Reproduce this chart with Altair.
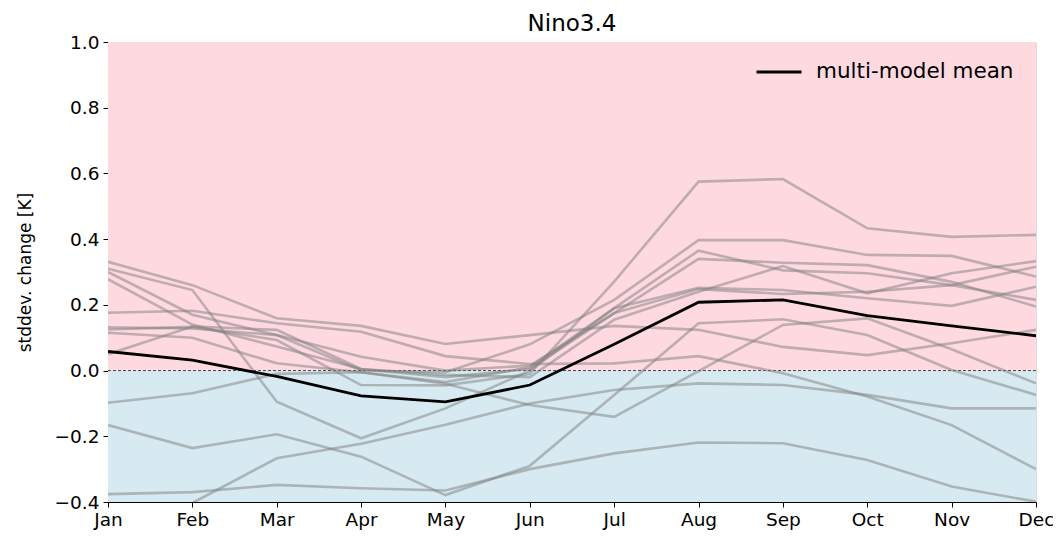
import altair as alt
import pandas as pd

months = ["Jan", "Feb", "Mar", "Apr", "May", "Jun", "Jul", "Aug", "Sep", "Oct", "Nov", "Dec"]

model_a = [0.331, 0.260, 0.159, 0.136, 0.081, 0.108, 0.136, 0.124, 0.072, 0.047, 0.083, 0.124]
model_b = [0.176, 0.182, 0.144, 0.118, 0.044, 0.020, 0.022, 0.044, -0.008, -0.079, -0.166, -0.300]
model_c = [0.310, 0.245, -0.095, -0.206, -0.115, 0.000, 0.190, 0.365, 0.305, 0.296, 0.260, 0.215]
model_d = [0.300, 0.170, 0.108, 0.042, 0.000, 0.015, 0.175, 0.340, 0.328, 0.321, 0.270, 0.195]
model_e = [0.278, 0.140, 0.073, 0.005, -0.013, -0.020, 0.155, 0.240, 0.318, 0.235, 0.296, 0.333]
model_f = [0.132, 0.128, 0.108, 0.000, -0.005, 0.080, 0.215, 0.397, 0.397, 0.352, 0.349, 0.286]
model_g = [0.125, 0.133, 0.093, -0.044, -0.045, -0.010, 0.271, 0.575, 0.583, 0.433, 0.407, 0.413]
model_h = [0.115, 0.100, 0.022, -0.005, -0.035, 0.010, 0.190, 0.252, 0.245, 0.220, 0.197, 0.255]
model_i = [0.050, 0.134, 0.124, 0.005, -0.020, 0.005, 0.175, 0.248, 0.233, 0.240, 0.260, 0.316]
model_j = [-0.098, -0.069, -0.010, -0.005, -0.040, -0.105, -0.141, -0.002, 0.139, 0.159, 0.065, -0.039]
model_k = [-0.166, -0.236, -0.194, -0.262, -0.379, -0.290, -0.074, 0.144, 0.156, 0.108, 0.002, -0.074]
model_l = [-0.376, -0.370, -0.348, -0.358, -0.365, -0.300, -0.252, -0.219, -0.221, -0.272, -0.353, -0.399]
model_m = [-0.470, -0.403, -0.267, -0.223, -0.165, -0.100, -0.059, -0.039, -0.044, -0.074, -0.115, -0.115]

mean_vals = [0.058, 0.032, -0.018, -0.077, -0.095, -0.044, 0.080, 0.208, 0.215, 0.167, 0.136, 0.106]

y_ticks = [-0.4, -0.2, 0.0, 0.2, 0.4, 0.6, 0.8, 1.0]
y_min, y_max = -0.4, 1.0
title_text = "Nino3.4"
y_title = "stddev. change [K]"
mean_label = "multi-model mean"

models = {
    "a": model_a, "b": model_b, "c": model_c, "d": model_d, "e": model_e,
    "f": model_f, "g": model_g, "h": model_h, "i": model_i, "j": model_j,
    "k": model_k, "l": model_l, "m": model_m,
}

W, H = 928, 460
FONT = "DejaVu Sans"

rows = []
for name, vals in models.items():
    for m, v in zip(months, vals):
        rows.append({"model": name, "month": m, "value": v})
df_models = pd.DataFrame(rows)
df_mean = pd.DataFrame({"month": months, "value": mean_vals, "series": mean_label})
df_bg = pd.DataFrame({"lo": [0.0, y_min], "hi": [y_max, 0.0], "c": ["#FFD9E0", "#D7EAF1"]})

yscale = alt.Scale(domain=[y_min, y_max], nice=False, zero=False)
xscale = alt.Scale(type="point", padding=0, domain=months)

x_enc = alt.X(
    "month:O", sort=months, scale=xscale,
    axis=alt.Axis(title=None, labelAngle=0, labelFontSize=18.5, labelFont=FONT,
                  labelColor="black", tickColor="black", domainColor="black",
                  tickSize=5, labelPadding=3, grid=False),
)
y_axis = alt.Axis(
    title=y_title, values=y_ticks, format=".1f",
    labelFontSize=18.5, labelFont=FONT, labelColor="black",
    titleFontSize=17, titleFont=FONT, titleFontWeight="normal", titleColor="black",
    tickColor="black", domainColor="black", tickSize=5, labelPadding=4,
    titlePadding=20, grid=False,
)

bg = alt.Chart(df_bg).mark_rect().encode(
    x=alt.value(0), x2=alt.value(W),
    y=alt.Y("lo:Q", scale=yscale, axis=y_axis),
    y2="hi:Q",
    color=alt.Color("c:N", scale=None),
)

zero = alt.Chart(pd.DataFrame({"z": [0.0]})).mark_rule(
    color="#444444", strokeWidth=1, strokeDash=[3, 2]
).encode(y=alt.Y("z:Q", scale=yscale))

gray = alt.Chart(df_models).mark_line(
    color="gray", opacity=0.5, strokeWidth=2.6, clip=True
).encode(
    x=x_enc,
    y=alt.Y("value:Q", scale=yscale),
    detail="model:N",
)

mean_line = alt.Chart(df_mean).mark_line(strokeWidth=2.8, clip=True).encode(
    x=x_enc,
    y=alt.Y("value:Q", scale=yscale),
    color=alt.Color(
        "series:N",
        scale=alt.Scale(domain=[mean_label], range=["black"]),
        legend=alt.Legend(
            title=None, orient="none", legendX=647, legendY=6,
            symbolType="stroke", symbolSize=2025, symbolStrokeWidth=2.8,
            labelFontSize=21.5, labelFont=FONT, labelColor="black",
            labelOffset=13, padding=0, labelLimit=400,
        ),
    ),
)

title = alt.Chart(pd.DataFrame({"t": [title_text]})).mark_text(
    fontSize=23, font=FONT, color="black", baseline="alphabetic", align="center"
).encode(text="t:N", x=alt.value(W / 2), y=alt.value(-11))

chart = alt.layer(bg, zero, gray, mean_line, title).properties(
    width=W, height=H,
    autosize=alt.AutoSizeParams(type="none"),
    padding={"left": 100, "top": 34, "right": 17, "bottom": 29},
).configure_view(stroke="black", strokeWidth=1).configure(background="white")

chart.save("out.html", embed_options={"renderer": "svg", "actions": False})
